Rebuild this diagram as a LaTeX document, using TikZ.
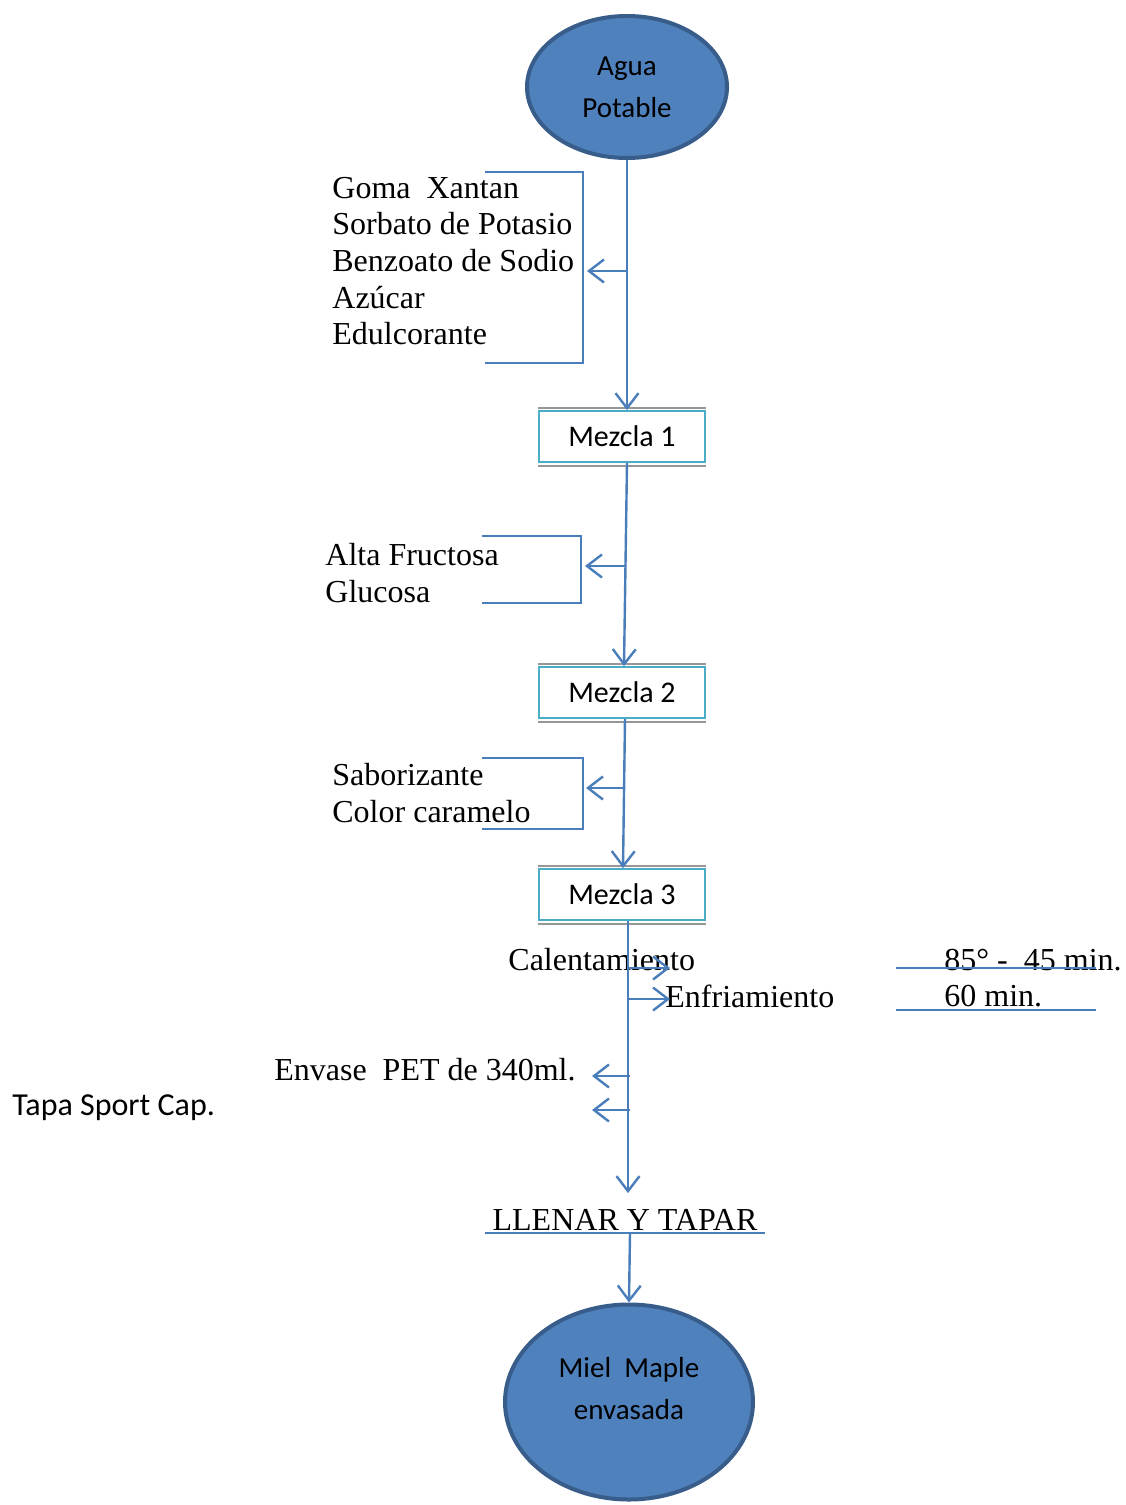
\documentclass[tikz,border=0pt]{standalone}
\usepackage{fontspec}
\setmainfont{Liberation Serif}
\newfontfamily\calibri{Carlito}
\usetikzlibrary{arrows.meta,shapes.geometric}
\definecolor{cEll}  {RGB}{ 79,129,189}
\definecolor{cEllD} {RGB}{ 56, 93,138}
\definecolor{cLine} {RGB}{ 74,126,187}
\definecolor{cBox}  {RGB}{ 75,172,198}
\definecolor{cGray} {RGB}{150,150,150}

\begin{document}
\begin{tikzpicture}[
  x=0.5pt, y=-0.5pt,
  %% ── start / end ellipse ───────────────────────────────────────────────
  E/.style={
    ellipse, draw=cEllD, fill=cEll, line width=2pt,
    align=center, inner sep=0pt,
    font=\calibri\fontsize{14.5}{21}\selectfont
  },
  %% ── mixing step box ───────────────────────────────────────────────────
  M/.style={
    rectangle, draw=cBox, line width=0.9pt,
    minimum width=83pt, minimum height=25.5pt, inner sep=0pt,
    font=\calibri\fontsize{15}{18}\selectfont
  },
  %% ── grey shadow line of a box ─────────────────────────────────────────
  G/.style={draw=cGray, line width=0.9pt},
  %% ── ingredient text ───────────────────────────────────────────────────
  T/.style={font=\fontsize{16}{18.3}\selectfont, align=left, inner sep=0pt},
  %% ── flow arrow ────────────────────────────────────────────────────────
  A/.style={-{Straight Barb[length=7.5pt,width=11.5pt]}, line width=1.2pt, draw=cLine},
  %% ── bracket / rule line ───────────────────────────────────────────────
  B/.style={line width=1pt, draw=cLine},
]
\useasboundingbox (0,0) rectangle (1125,1505);

%% ═══════════════════════════════════════════════════════════════════════
%%  MAIN FLOW  (top → bottom)
%% ═══════════════════════════════════════════════════════════════════════

\node[E, minimum width=100pt, minimum height=71pt] (agua) at (627,87) {Agua\\Potable};

\node[M] (mez1) at (622,436.5) {Mezcla 1};
\node[M] (mez2) at (622,692.5) {Mezcla 2};
\node[M] (mez3) at (622,894.5) {Mezcla 3};

\node[font=\fontsize{16}{18.3}\selectfont, inner xsep=3.5pt, inner ysep=1pt,
      anchor=south] (llenar) at (625,1233) {LLENAR Y TAPAR};

\node[E, minimum width=124pt, minimum height=97.5pt, text depth=14pt]
  (miel) at (629,1402) {Miel\ \ Maple\\envasada};

%% grey shadow lines on the boxes
\foreach \m in {mez1,mez2,mez3}{
  \draw[G] ([yshift=1pt]\m.north west) -- ([yshift=1pt]\m.north east);
  \draw[G] ([yshift=-1.5pt]\m.south west) -- ([yshift=-1.5pt]\m.south east);
}

%% underline of LLENAR Y TAPAR
\draw[B] (llenar.south west) -- (llenar.south east);

%% ═══════════════════════════════════════════════════════════════════════
%%  INPUT TEXTS
%% ═══════════════════════════════════════════════════════════════════════

\node[T, anchor=west] (ins1) at (332,261) {%
  Goma\ \ Xantan\\Sorbato de Potasio\\Benzoato de Sodio\\Az\'ucar\\Edulcorante};
\node[T, anchor=west] (ins2) at (325,573) {Alta Fructosa\\Glucosa};
\node[T, anchor=west] (ins3) at (332,793) {Saborizante\\Color caramelo};

\node[T, anchor=west] (calen) at (508,960) {Calentamiento};
\node[T, anchor=west] (enfri) at (665,996) {Enfriamiento};
\node[T, anchor=west] (t85)   at (944,960) {85°\ -\ \ 45 min.};
\node[T, anchor=west] (t60)   at (944,996) {60 min.};

\node[T, anchor=east] (envase) at (576,1070) {Envase\ \ PET de 340ml.};
\node[T, anchor=west, font=\calibri\fontsize{16}{19}\selectfont] (tapa) at (12,1108) {Tapa Sport Cap.};

%% ═══════════════════════════════════════════════════════════════════════
%%  MAIN ARROWS
%% ═══════════════════════════════════════════════════════════════════════

\draw[A] (agua.south) -- (agua.south |- mez1.north);
\draw[A] ([xshift=2.5pt]mez1.south) -- ([xshift=1pt]mez2.north);
\draw[A] ([xshift=1.5pt]mez2.south) -- ([xshift=0.5pt]mez3.north);
\draw[A, shorten >=7pt] ([xshift=3pt]mez3.south) -- ([xshift=3pt]mez3.south |- llenar.north);
\draw[A] ([xshift=2.5pt]llenar.south) -- (miel.north);

%% ═══════════════════════════════════════════════════════════════════════
%%  SIDE BRANCHES
%% ═══════════════════════════════════════════════════════════════════════

\coordinate (j1) at (627,271);  \coordinate (k1) at (587,271);
\coordinate (j2) at (625,566);  \coordinate (k2) at (585,566);
\coordinate (j3) at (624,788);  \coordinate (k3) at (586,788);
\coordinate (j4) at (628,968);  \coordinate (k4) at (670,968);
\coordinate (j5) at (628,999);  \coordinate (k5) at (670,999);
\coordinate (j6) at (630,1076); \coordinate (k6) at (592,1076);
\coordinate (j7) at (630,1110); \coordinate (k7) at (592,1110);

\foreach \i in {1,...,7}
  \draw[A] (j\i) -- (k\i);

%% brackets round the ingredient lists
\draw[B] (485,172) -- (583,172) -- (583,363) -- (485,363);
\draw[B] (482,536) -- (581,536) -- (581,603) -- (482,603);
\draw[B] (482,758) -- (583,758) -- (583,829) -- (482,829);

%% rules under the process values
\draw[B] (896,968)  -- (1096,968);
\draw[B] (896,1010) -- (1096,1010);

\end{tikzpicture}
\end{document}
